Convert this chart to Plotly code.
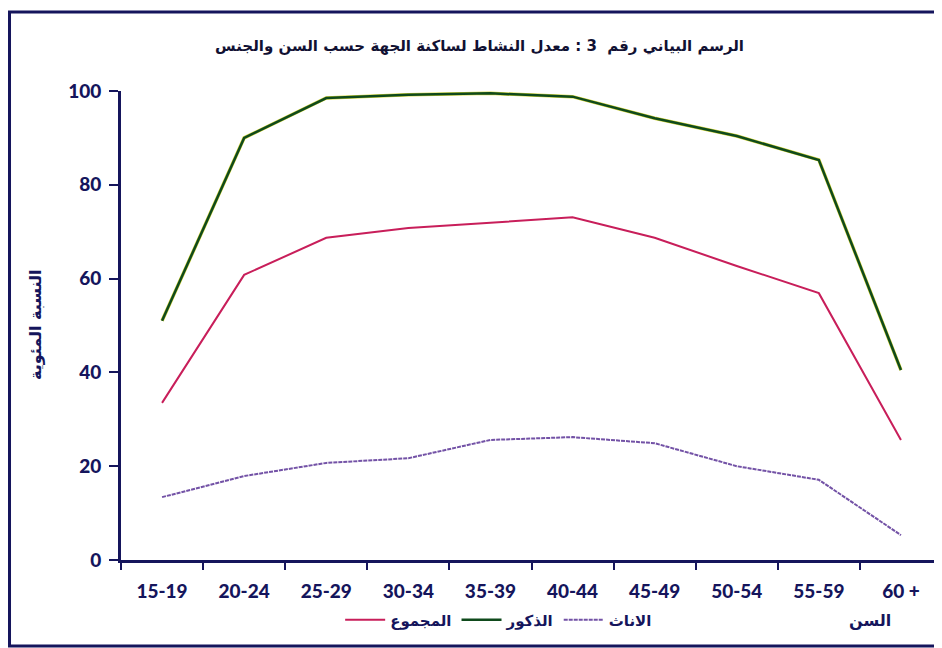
import plotly.graph_objects as go

age_groups = ["15-19", "20-24", "25-29", "30-34", "35-39", "40-44", "45-49", "50-54", "55-59", "60 +"]
total = [33.5, 60.8, 68.7, 70.8, 71.9, 73.1, 68.7, 62.7, 56.9, 25.6]
males = [51.0, 90.0, 98.5, 99.2, 99.5, 98.8, 94.2, 90.4, 85.3, 40.5]
females = [13.4, 17.9, 20.7, 21.7, 25.6, 26.2, 24.9, 20.0, 17.1, 5.3]

y_ticks = [0, 20, 40, 60, 80, 100]

name_total = "المجموع"
name_males = "الذكور"
name_females = "الاناث"

title_text = "الرسم البياني رقم  3 : معدل النشاط لساكنة الجهة حسب السن والجنس"
y_title = "النسبة المئوية"
x_title = "السن"

navy = "#15155c"
num_font = dict(family="Lato", size=19, color=navy, weight=900)
ar_font = "DejaVu Sans"

fig = go.Figure()

fig.add_trace(go.Scatter(x=age_groups, y=total, mode="lines", name=name_total,
                         line=dict(color="#c81e5a", width=2)))
fig.add_trace(go.Scatter(x=age_groups, y=males, mode="lines", showlegend=False,
                         hoverinfo="skip", line=dict(color="#d6d63a", width=3.5)))
fig.add_trace(go.Scatter(x=age_groups, y=males, mode="lines", name=name_males,
                         line=dict(color="#0f4a1c", width=2.5)))
fig.add_trace(go.Scatter(x=age_groups, y=females, mode="lines", name=name_females,
                         line=dict(color="#7352a6", width=2, dash="4px,1px")))

fig.update_layout(
    width=934, height=640,
    margin=dict(l=113, r=0, t=83, b=88),
    paper_bgcolor="white", plot_bgcolor="white",
    showlegend=True,
    legend=dict(orientation="h", x=0.46, xanchor="center", y=-0.128, yanchor="middle",
                font=dict(family=ar_font, size=15, color=navy, weight="bold"), itemwidth=40,
                bgcolor="rgba(0,0,0,0)"),
)

fig.update_xaxes(
    type="category", range=[-0.5, 9.5],
    showgrid=False, zeroline=False,
    showline=True, linecolor=navy, linewidth=3,
    ticks="outside", tickson="boundaries", ticklen=7, tickwidth=2, tickcolor=navy,
    tickfont=num_font, ticklabelstandoff=12,
)
fig.update_yaxes(
    range=[0, 100], tickvals=y_ticks,
    showgrid=False, zeroline=False,
    showline=True, linecolor=navy, linewidth=3,
    ticks="outside", ticklen=9, tickwidth=2, tickcolor=navy,
    tickfont=num_font, ticklabelstandoff=4,
)

fig.add_annotation(text="<b>" + title_text + "</b>", xref="paper", yref="paper",
                   x=0.437, y=1.119, xanchor="center", showarrow=False,
                   font=dict(family=ar_font, size=15, color="#111133"))
fig.add_annotation(text="<b>" + y_title + "</b>", xref="paper", yref="paper",
                   x=-0.1047, y=0.501, xanchor="center", yanchor="middle",
                   showarrow=False, textangle=-90,
                   font=dict(family=ar_font, size=16, color=navy))
fig.add_annotation(text="<b>" + x_title + "</b>", xref="paper", yref="paper",
                   x=0.912, y=-0.1535, xanchor="center", showarrow=False,
                   font=dict(family=ar_font, size=16, color=navy))

fig.add_shape(type="rect", xref="paper", yref="paper",
              x0=-0.1358, x1=0.9976, y0=-0.1834, y1=1.1684,
              line=dict(color=navy, width=3), fillcolor="rgba(0,0,0,0)", layer="below")

fig.write_html("out.html")
